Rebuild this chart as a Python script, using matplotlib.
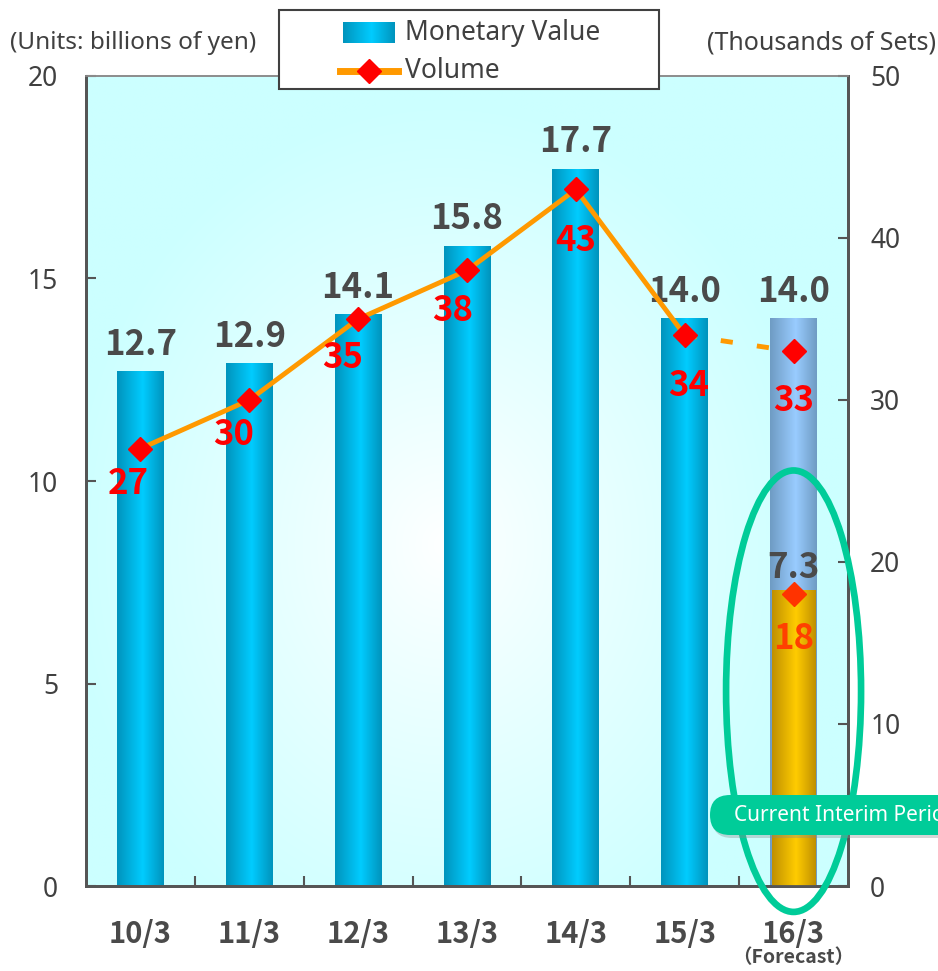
import numpy as np
import matplotlib.pyplot as plt
from matplotlib.patches import Ellipse, Rectangle, FancyBboxPatch
from matplotlib.lines import Line2D
from matplotlib.colors import LinearSegmentedColormap, to_rgb
from matplotlib.transforms import IdentityTransform

# fiscal years (March year-end)
periods = ['10/3', '11/3', '12/3', '13/3', '14/3', '15/3', '16/3']
value = [12.7, 12.9, 14.1, 15.8, 17.7, 14.0, 14.0]   # billions of yen
volume = [27, 30, 35, 38, 43, 34, 33]                 # thousands of sets
interim_value = 7.3
interim_volume = 18

# label offsets (points) for the volume numbers
vol_offsets = [(-9, -25), (-11, -25), (-11, -28), (-10, -29), (0, -37), (3, -36), (0, -35)]

NARROW = ['Liberation Sans Narrow', 'Noto Sans', 'DejaVu Sans']
JP = ['Noto Sans CJK JP', 'DejaVu Sans']
GRAY = '#4a4a4a'


def hgrad(edge, mid, peak=0.55):
    cmap = LinearSegmentedColormap.from_list('g', [(0, edge), (peak, mid), (1, edge)])
    return cmap(np.linspace(0, 1, 80))[None, :, :]


W, H = 938, 971
fig = plt.figure(figsize=(W / 100, H / 100), dpi=100)
ax = fig.add_axes([86 / W, 85 / H, 762 / W, 810 / H])
ax2 = ax.twinx()

# radial background, white in the middle fading to pale cyan
yy, xx = np.mgrid[0:1:300j, 0:1:300j]
r = np.hypot((xx - 0.47) / 0.5, (yy - 0.42) / 0.55)
t = np.clip(r, 0, 1) ** 0.9
white = np.array(to_rgb('#ffffff'))
cyan = np.array(to_rgb('#ccffff'))
bg = white[None, None, :] * (1 - t[..., None]) + cyan[None, None, :] * t[..., None]
ax.imshow(bg, extent=(-0.5, 6.5, 0, 20), origin='lower', aspect='auto',
          zorder=0, interpolation='bilinear')

x = np.arange(len(periods))
blue = hgrad('#0094bd', '#00ccff')
pale = hgrad('#6f9cc4', '#99ccff')
gold = hgrad('#c09000', '#ffcc00')

bars = ax.bar(x, value, width=0.43, color='none', zorder=2)
for i, b in enumerate(bars):
    x0, w, h = b.get_x(), b.get_width(), b.get_height()
    ax.imshow(blue if i < 6 else pale, extent=(x0, x0 + w, 0, h),
              aspect='auto', zorder=2)
ib = ax.bar(x[-1], interim_value, width=0.40, color='none', zorder=3)[0]
ax.imshow(gold, extent=(ib.get_x(), ib.get_x() + ib.get_width(), 0, interim_value),
          aspect='auto', zorder=3)

for xi, v in zip(x, value):
    ax.annotate(f'{v:.1f}', (xi, v), xytext=(0, 7), textcoords='offset points',
                ha='center', va='bottom', fontsize=25, color=GRAY,
                family=JP, fontweight='bold')
ax.annotate(f'{interim_value:.1f}', (x[-1], interim_value), xytext=(0, 4),
            textcoords='offset points', ha='center', va='bottom', fontsize=25,
            color=GRAY, family=JP, fontweight='bold', zorder=4)

ax.set_xlim(-0.5, 6.5)
ax.set_ylim(0, 20)
ax.set_yticks([0, 5, 10, 15, 20])
ax.set_xticks(x)
ax.set_xticklabels(periods, family=JP, fontweight='bold', fontsize=21, color=GRAY)
ax.set_xticks(x[:-1] + 0.5, minor=True)
ax.tick_params(axis='x', which='major', length=0, pad=24)
ax.tick_params(axis='x', which='minor', direction='in', length=7, width=1.5, color='#555555')
ax.tick_params(axis='y', direction='in', length=7, width=1.5, color='#555555',
               labelsize=19, labelcolor='#404040', pad=20)
for lab in ax.get_yticklabels():
    lab.set_family(NARROW)

# volume on the right axis
ax2.set_ylim(0, 50)
ax2.set_yticks([0, 10, 20, 30, 40, 50])
ax2.tick_params(axis='y', direction='in', length=7, width=1.5, color='#555555',
                labelsize=19, labelcolor='#404040', pad=16)
for lab in ax2.get_yticklabels():
    lab.set_family(NARROW)

ax2.plot(x[:6], volume[:6], color='#ff9900', lw=3.5, zorder=3, solid_capstyle='round')
ax2.plot(x[5:7], volume[5:7], color='#ff9900', lw=3.5, dashes=(2.5, 5), dash_capstyle='butt',
         zorder=3)
ax2.plot(x, volume, 'D', ms=12, color='#ff0000', zorder=4)
ax2.plot(x[-1], interim_volume, 'D', ms=12, color='#ff3300', zorder=4)

for xi, v, off in zip(x, volume, vol_offsets):
    ax2.annotate(str(v), (xi, v), xytext=off, textcoords='offset points',
                 ha='center', va='center', fontsize=25, color='#ff0000',
                 family=JP, fontweight='bold')
ax2.annotate(str(interim_volume), (x[-1], interim_volume), xytext=(0, -32),
             textcoords='offset points', ha='center', va='center', fontsize=25,
             color='#ff4000', family=JP, fontweight='bold')

for a in (ax, ax2):
    for side in ('left', 'right', 'bottom'):
        a.spines[side].set_color('#555555')
        a.spines[side].set_linewidth(2)
    a.spines['top'].set_color('#8c8c8c')
    a.spines['top'].set_linewidth(1.2)

# highlight ring around the forecast bar
ring = Ellipse((x[-1], 4.81), 1.24, 10.9, transform=ax.transData, fc='none',
               ec='#00cc99', lw=4.8, zorder=10, clip_on=False)
ax2.add_patch(ring)

# "Current Interim Period" tag running off the right edge
fig.add_artist(FancyBboxPatch((712, 133), 260, 40, boxstyle='round,pad=0,rounding_size=20',
                              transform=IdentityTransform(), fc='#8a8a8a', ec='none',
                              alpha=0.35, zorder=19))
fig.add_artist(FancyBboxPatch((710, 136), 260, 40, boxstyle='round,pad=0,rounding_size=20',
                              transform=IdentityTransform(), fc='#00cc99', ec='none',
                              zorder=20))
fig.text(734 / W, 1 - 815 / H, 'Current Interim Period', color='white', fontsize=15,
         ha='left', va='center', family=NARROW, zorder=21)

fig.text(793 / W, 1 - 958 / H, '（Forecast）', ha='center', va='center', fontsize=14,
         fontweight='bold', color=GRAY, family=JP)

fig.text(10 / W, 1 - 43 / H, '(Units: billions of yen)', ha='left', va='center',
         fontsize=17.5, color='#404040', family=NARROW)
fig.text(936 / W, 1 - 43 / H, '(Thousands of Sets)', ha='right', va='center',
         fontsize=18, color='#404040', family=NARROW)

# legend box
fig.add_artist(Rectangle((279 / W, 1 - 89 / H), 380 / W, 79 / H, transform=fig.transFigure,
                         fc='white', ec='#404040', lw=1.5, zorder=5))
lax = fig.add_axes([343 / W, 1 - 43 / H, 52 / W, 21 / H], zorder=6)
lax.imshow(blue, extent=(0, 1, 0, 1), aspect='auto')
lax.set_axis_off()
fig.add_artist(Line2D([340 / W, 398 / W], [1 - 71 / H] * 2, transform=fig.transFigure,
                      color='#ff9900', lw=5, zorder=6))
fig.add_artist(Line2D([369 / W], [1 - 71 / H], transform=fig.transFigure, marker='D',
                      ms=12, color='#ff0000', zorder=7))
fig.text(405 / W, 1 - 33 / H, 'Monetary Value', ha='left', va='center', fontsize=19,
         color='#404040', family=NARROW, zorder=7)
fig.text(405 / W, 1 - 71 / H, 'Volume', ha='left', va='center', fontsize=19,
         color='#404040', family=NARROW, zorder=7)

fig.savefig('out.png', dpi=100)
